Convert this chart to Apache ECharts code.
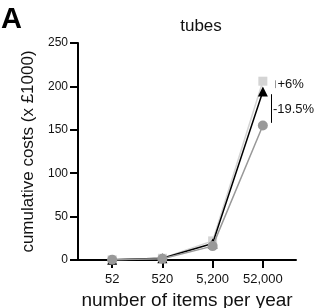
<!DOCTYPE html>
<html><head><meta charset="utf-8">
<script src="https://cdn.jsdelivr.net/npm/echarts@6/dist/echarts.min.js"></script>
<style>html,body{margin:0;padding:0;background:#fff}#c{width:315px;height:308px}</style>
</head><body><div id="c"></div>
<script>
const categories = ['52', '520', '5,200', '52,000'];
const squareVals = [0.3, 2, 22, 206];
const triangleVals = [0.3, 2, 19, 194];
const circleVals = [0.2, 1.5, 16, 155];
const yTicks = [0, 50, 100, 150, 200, 250];
const pctLabels = ['+6%', '-19.5%'];

const font = 'Liberation Sans, Arial, sans-serif';
function pts(vals){ return vals.map((v,i)=>[i+1, v]); }

const chart = echarts.init(document.getElementById('c'));
chart.setOption({
  animation: false,
  grid: {left: 78, top: 43, right: 19, bottom: 48, containLabel: false, outerBoundsMode: 'none'},
  title: {text: 'tubes', left: 196, top: 13, textAlign: 'center',
    textStyle: {fontFamily: font, fontSize: 17, fontWeight: 'normal', color: '#111'}},
  graphic: [{type: 'text', left: 1, top: 5, style: {text: 'A', font: 'bold 29px ' + font, fill: '#000'}}],
  xAxis: {
    type: 'value', min: 0.32, max: 4.66, interval: 1,
    axisLine: {lineStyle: {color: '#000', width: 2}},
    axisTick: {show: true, length: 8, lineStyle: {color: '#000', width: 2},
      customValues: [1,2,3,4]},
    axisLabel: {customValues: [1,2,3,4], formatter: v => categories[Math.round(v)-1] || '',
      fontFamily: font, fontSize: 13, color: '#111', margin: 13},
    splitLine: {show: false},
    name: 'number of items per year', nameLocation: 'middle', nameGap: 28,
    nameTextStyle: {fontFamily: font, fontSize: 19, color: '#111'}
  },
  yAxis: {
    type: 'value', min: 0, max: 250, interval: 50,
    axisLine: {show: true, lineStyle: {color: '#000', width: 2}},
    axisTick: {show: true, length: 8, lineStyle: {color: '#000', width: 2}},
    axisLabel: {formatter: v => yTicks.includes(v) ? String(v) : '', fontFamily: font, fontSize: 12, color: '#111', margin: 10},
    splitLine: {show: false},
    name: 'cumulative costs (x £1000)', nameLocation: 'middle', nameGap: 40,
    nameTextStyle: {fontFamily: font, fontSize: 17, color: '#111'}
  },
  series: [
    {type: 'line', data: pts(squareVals), symbol: 'rect', symbolSize: 9,
      itemStyle: {color: '#d4d4d4'}, lineStyle: {color: '#d4d4d4', width: 1.5}, z: 2,
      markLine: {silent: true, symbol: 'none', label: {show: false},
        lineStyle: {color: '#999', width: 1, type: 'solid'},
        data: [[{coord: [4.24, 207]}, {coord: [4.24, 198]}]]},
      markPoint: {silent: true, symbol: 'circle', symbolSize: 0,
        label: {show: true, position: 'right', distance: 0, formatter: pctLabels[0],
          fontFamily: font, fontSize: 13, color: '#111'},
        data: [{coord: [4.29, 202]}]}},
    {type: 'line', data: pts(triangleVals), symbol: 'triangle', symbolSize: 10,
      itemStyle: {color: '#000'}, lineStyle: {color: '#000', width: 1.5}, z: 3,
      markLine: {silent: true, symbol: 'none', label: {show: false},
        lineStyle: {color: '#000', width: 1, type: 'solid'},
        data: [[{coord: [4.17, 191]}, {coord: [4.17, 158]}]]},
      markPoint: {silent: true, symbol: 'circle', symbolSize: 0,
        label: {show: true, position: 'right', distance: 0, formatter: pctLabels[1],
          fontFamily: font, fontSize: 13, color: '#111'},
        data: [{coord: [4.2, 173]}]}},
    {type: 'line', data: pts(circleVals), symbol: 'circle', symbolSize: 10,
      itemStyle: {color: '#999'}, lineStyle: {color: '#999', width: 1.5}, z: 4}
  ]
});
</script></body></html>
